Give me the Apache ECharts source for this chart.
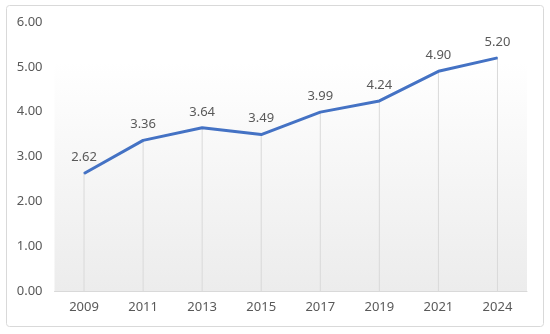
<!DOCTYPE html>
<html>
<head>
<meta charset="utf-8">
<script src="https://cdn.jsdelivr.net/npm/echarts@6/dist/echarts.min.js"></script>
<style>
html,body{margin:0;padding:0;background:#fff;}
#chart{width:550px;height:334px;}
</style>
</head>
<body>
<div id="chart"></div>
<script>
var categories = ['2009','2011','2013','2015','2017','2019','2021','2024'];
var values = [2.62, 3.36, 3.64, 3.49, 3.99, 4.24, 4.90, 5.20];
var yTicks = [0, 1, 2, 3, 4, 5, 6];

var chart = echarts.init(document.getElementById('chart'), null, {renderer:'canvas'});
var font = 'Noto Sans';
chart.setOption({
  animation: false,
  graphic: [{
    type: 'rect',
    shape: {x: 6.5, y: 5.5, width: 537, height: 321, r: 3},
    style: {fill: 'none', stroke: '#d9d9d9', lineWidth: 1},
    z: -10
  }],
  grid: {
    left: 54.5, right: 23, top: 22, bottom: 43,
    show: true,
    borderWidth: 0,
    backgroundColor: new echarts.graphic.LinearGradient(0, 0, 0, 1, [
      {offset: 0, color: '#ffffff'},
      {offset: 0.15, color: '#ffffff'},
      {offset: 1, color: '#ececec'}
    ])
  },
  xAxis: {
    type: 'category',
    data: categories,
    boundaryGap: true,
    axisLine: {show: true, lineStyle: {color: '#d9d9d9', width: 1}},
    axisTick: {show: false},
    axisLabel: {color: '#595959', fontFamily: font, fontSize: 13, margin: 10},
    splitLine: {show: false}
  },
  yAxis: {
    type: 'value',
    min: yTicks[0],
    max: yTicks[yTicks.length - 1],
    interval: 1,
    axisLine: {show: false},
    axisTick: {show: false},
    splitLine: {show: false},
    axisLabel: {
      color: '#595959', fontFamily: font, fontSize: 13, margin: 12,
      formatter: function (v) { return v.toFixed(2); }
    }
  },
  series: [{
    type: 'bar',
    data: values,
    barWidth: 1,
    itemStyle: {color: '#d9d9d9'},
    silent: true,
    z: 1
  }, {
    type: 'line',
    data: values,
    symbol: 'circle',
    symbolSize: 1,
    showSymbol: true,
    itemStyle: {color: '#4472c4'},
    lineStyle: {color: '#4472c4', width: 3},
    z: 3,
    label: {
      show: true,
      position: 'top',
      distance: 9,
      color: '#595959',
      fontFamily: font,
      fontSize: 13,
      formatter: function (p) { return p.value.toFixed(2); }
    }
  }]
});
</script>
</body>
</html>
